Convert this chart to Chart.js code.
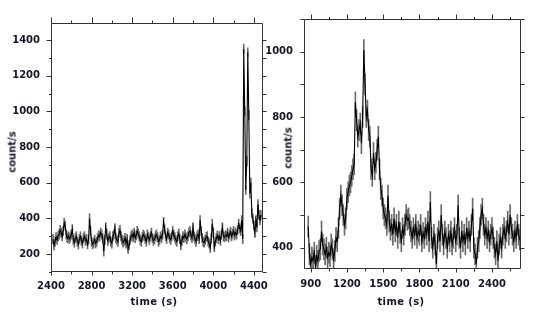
<!DOCTYPE html>
<html><head><meta charset="utf-8">
<script src="https://cdn.jsdelivr.net/npm/chart.js@4.4.1/dist/chart.umd.min.js"></script>
<style>
html,body{margin:0;padding:0;background:#fff;width:545px;height:327px;overflow:hidden}
.wrap{position:absolute;left:0;top:0;width:545px;height:327px}
.t{position:absolute;font:bold 10px "DejaVu Sans",Verdana,sans-serif;color:#16162a;white-space:nowrap;transform:translate(-50%,-50%)}
.tx{letter-spacing:0.4px}
.ty{transform:translate(-50%,-50%) rotate(-90deg)}
</style></head><body>
<div class="wrap"><canvas id="cL"></canvas></div>
<div class="wrap"><canvas id="cR"></canvas></div>
<div class="t ty" style="left:12px;top:152px">count/s</div>
<div class="t tx" style="left:154px;top:301px">time (s)</div>
<div class="t ty" style="left:288px;top:148px">count/s</div>
<div class="t tx" style="left:401px;top:301px">time (s)</div>
<script>
// ---------- Left panel data ----------
const leftTimes = [
2420,2430,2440,2450,2460,2470,2480,2490,2500,2510,
2520,2530,2540,2550,2560,2570,2580,2590,2600,2610,
2620,2630,2640,2650,2660,2670,2680,2690,2700,2710,
2720,2730,2740,2750,2760,2770,2780,2790,2800,2810,
2820,2830,2840,2850,2860,2870,2880,2890,2900,2910,
2920,2930,2940,2950,2960,2970,2980,2990,3000,3010,
3020,3030,3040,3050,3060,3070,3080,3090,3100,3110,
3120,3130,3140,3150,3160,3170,3180,3190,3200,3210,
3220,3230,3240,3250,3260,3270,3280,3290,3300,3310,
3320,3330,3340,3350,3360,3370,3380,3390,3400,3410,
3420,3430,3440,3450,3460,3470,3480,3490,3500,3510,
3520,3530,3540,3550,3560,3570,3580,3590,3600,3610,
3620,3630,3640,3650,3660,3670,3680,3690,3700,3710,
3720,3730,3740,3750,3760,3770,3780,3790,3800,3810,
3820,3830,3840,3850,3860,3870,3880,3890,3900,3910,
3920,3930,3940,3950,3960,3970,3980,3990,4000,4010,
4020,4030,4040,4050,4060,4070,4080,4090,4100,4110,
4120,4130,4140,4150,4160,4170,4180,4190,4200,4210,
4220,4230,4240,4250,4260,4270,4280,4290,4300,4310,
4320,4330,4340,4350,4360,4370,4380,4390,4400,4410,
4420,4430,4440,4450,4460,4470];
const leftCounts = [
285,250,270,295,280,300,310,335,320,300,
330,375,360,310,290,300,285,295,310,340,
280,265,290,300,270,255,285,300,275,260,
290,300,275,285,255,280,400,330,270,255,
265,280,260,270,290,305,300,320,310,290,
215,280,350,310,275,290,300,270,260,300,
310,345,290,280,270,320,335,300,280,265,
275,290,260,285,230,250,280,300,310,295,
320,290,305,330,315,300,280,270,295,310,
300,285,270,310,295,280,300,320,290,275,
285,300,310,295,270,280,300,290,310,380,
340,300,285,320,310,290,280,300,330,310,
295,280,270,300,315,285,250,275,300,290,
310,295,285,300,320,330,305,290,350,300,
285,270,300,310,285,390,330,290,270,265,
280,295,300,270,260,235,290,370,320,240,
270,290,305,285,300,275,310,350,300,295,
305,300,320,295,310,325,300,315,330,305,
320,310,335,370,345,330,390,285,1350,1000,
560,720,1330,980,540,600,430,400,360,320,
390,350,480,420,390,420];
const leftErr = 26;
const leftXTicks = [2400,2800,3200,3600,4000,4400];
const leftYTicks = [200,400,600,800,1000,1200,1400];

// ---------- Right panel data ----------
const rightTimes = [
880,890,900,910,920,930,940,950,960,970,
980,990,1000,1010,1020,1030,1040,1050,1060,1070,
1080,1090,1100,1110,1120,1130,1140,1150,1160,1170,
1180,1190,1200,1210,1220,1230,1240,1250,1260,1270,
1280,1290,1300,1310,1320,1330,1340,1350,1360,1370,
1380,1390,1400,1410,1420,1430,1440,1450,1460,1470,
1480,1490,1500,1510,1520,1530,1540,1550,1560,1570,
1580,1590,1600,1610,1620,1630,1640,1650,1660,1670,
1680,1690,1700,1710,1720,1730,1740,1750,1760,1770,
1780,1790,1800,1810,1820,1830,1840,1850,1860,1870,
1880,1890,1900,1910,1920,1930,1940,1950,1960,1970,
1980,1990,2000,2010,2020,2030,2040,2050,2060,2070,
2080,2090,2100,2110,2120,2130,2140,2150,2160,2170,
2180,2190,2200,2210,2220,2230,2240,2250,2260,2270,
2280,2290,2300,2310,2320,2330,2340,2350,2360,2370,
2380,2390,2400,2410,2420,2430,2440,2450,2460,2470,
2480,2490,2500,2510,2520,2530,2540,2550,2560,2570,
2580,2590,2600,2610,2620,2630,2640];
const rightCounts = [
465,380,350,370,360,385,345,375,360,390,
395,450,410,395,380,400,370,385,375,410,
395,365,390,430,420,460,520,560,530,500,
470,490,550,570,590,600,620,640,655,845,
790,740,760,780,720,800,1005,900,800,820,
760,740,640,620,690,640,660,700,740,640,
580,560,520,500,490,470,560,480,455,470,
440,490,450,470,430,480,445,420,460,440,
470,500,485,490,470,450,430,460,440,470,
430,450,440,470,420,445,430,460,440,480,
420,540,430,400,440,410,350,430,450,420,
500,440,410,450,430,400,440,420,450,410,
430,460,420,440,530,430,400,450,420,440,
410,460,430,450,420,470,520,400,380,350,
400,420,460,500,520,470,440,460,430,450,
420,440,460,430,400,380,420,360,410,430,
400,440,460,430,450,480,440,500,460,440,
420,450,430,470,440,425,430];
const rightErr = 32;
const rightXTicks = [900,1200,1500,1800,2100,2400];
const rightYTicks = [400,600,800,1000];

// ---------- drawing ----------
const FONT = '"DejaVu Sans", Verdana, sans-serif';
const TXT = '#16162a';

const frameTicks = {
  id: 'frameTicks',
  afterDatasetsDraw(chart, args, o) {
    const ctx = chart.ctx, a = chart.chartArea;
    const xs = chart.scales.x, ys = chart.scales.y;
    const L = Math.round(a.left) + 0.5, R = Math.round(a.right) - 0.5;
    const T = Math.round(a.top) + 0.5, B = Math.round(a.bottom) - 0.5;
    const vals = (min, max, step) => { const r = []; for (let v = Math.ceil(min / step) * step; v <= max + 1e-6; v += step) r.push(v); return r; };
    const isMaj = (v, base, maj) => Math.abs(((v - base) % maj + maj) % maj) < 1e-6;
    ctx.save();
    ctx.strokeStyle = o.color; ctx.lineWidth = 1;
    ctx.beginPath();
    ctx.rect(L, T, R - L, B - T);
    vals(xs.min, xs.max, o.xMinor).forEach(v => {
      const px = Math.round(xs.getPixelForValue(v)) + 0.5;
      const m = isMaj(v, o.xBase, o.xMajor);
      ctx.moveTo(px, T); ctx.lineTo(px, T - (m ? o.top[0] : o.top[1]));
      ctx.moveTo(px, B); ctx.lineTo(px, B + (m ? o.bottom[0] : o.bottom[1]));
    });
    vals(ys.min, ys.max, o.yMinor).forEach(v => {
      const py = Math.round(ys.getPixelForValue(v)) + 0.5;
      const m = isMaj(v, o.yBase, o.yMajor);
      ctx.moveTo(L, py); ctx.lineTo(L - (m ? o.left[0] : o.left[1]), py);
      ctx.moveTo(R, py); ctx.lineTo(R + (m ? o.right[0] : o.right[1]), py);
    });
    ctx.stroke();
    ctx.restore();
  }
};

function build(id, times, counts, err, xTicks, yTicks, xr, yr, pad, yW, xH, xPad, yPad, spec) {
  const line = times.map((t, i) => ({x: t, y: counts[i]}));
  const bars = times.map((t, i) => ({x: t, y: [counts[i] - err, counts[i] + err]}));
  const tickCfg = (padding) => ({
    autoSkip: false, maxRotation: 0, includeBounds: false, padding,
    font: {family: FONT, size: 10, weight: 'bold'}, color: TXT,
    callback: v => String(v)
  });
  return new Chart(document.getElementById(id), {
    type: 'line',
    data: {datasets: [
      {type: 'line', data: line, borderColor: '#000', borderWidth: 1.1, pointRadius: 0, tension: 0, order: 0},
      {type: 'bar', data: bars, backgroundColor: '#6a6a6a', barThickness: 1, order: 1}
    ]},
    options: {
      responsive: true, maintainAspectRatio: false, animation: false,
      layout: {padding: pad},
      plugins: {legend: {display: false}, tooltip: {enabled: false}, frameTicks: spec},
      scales: {
        x: {type: 'linear', min: xr[0], max: xr[1], offset: false,
            grid: {display: false, drawTicks: false}, border: {display: false},
            afterBuildTicks: s => { s.ticks = xTicks.map(v => ({value: v})); },
            afterFit: s => { s.height = xH; },
            ticks: tickCfg(xPad)},
        y: {type: 'linear', min: yr[0], max: yr[1],
            grid: {display: false, drawTicks: false}, border: {display: false},
            afterBuildTicks: s => { s.ticks = yTicks.map(v => ({value: v})); },
            afterFit: s => { s.width = yW; },
            ticks: tickCfg(yPad)}
      }
    },
    plugins: [frameTicks]
  });
}

build('cL', leftTimes, leftCounts, leftErr, leftXTicks, leftYTicks,
  [2400, 4490], [100, 1495], {left: 0, top: 23, right: 282, bottom: 0}, 51, 55, 8, 11,
  {color: '#333', xMinor: 200, xMajor: 400, xBase: 2400, yMinor: 100, yMajor: 200, yBase: 0,
   top: [6, 3], bottom: [4, 3], left: [5, 2.5], right: [4, 4]});

build('cR', rightTimes, rightCounts, rightErr, rightXTicks, rightYTicks,
  [845, 2640], [335, 1100], {left: 253, top: 19, right: 24, bottom: 0}, 51, 58, 9, 11,
  {color: '#333', xMinor: 150, xMajor: 300, xBase: 900, yMinor: 100, yMajor: 200, yBase: 0,
   top: [5, 2.5], bottom: [4, 3], left: [4, 4], right: [4, 4]});
</script>
</body></html>
